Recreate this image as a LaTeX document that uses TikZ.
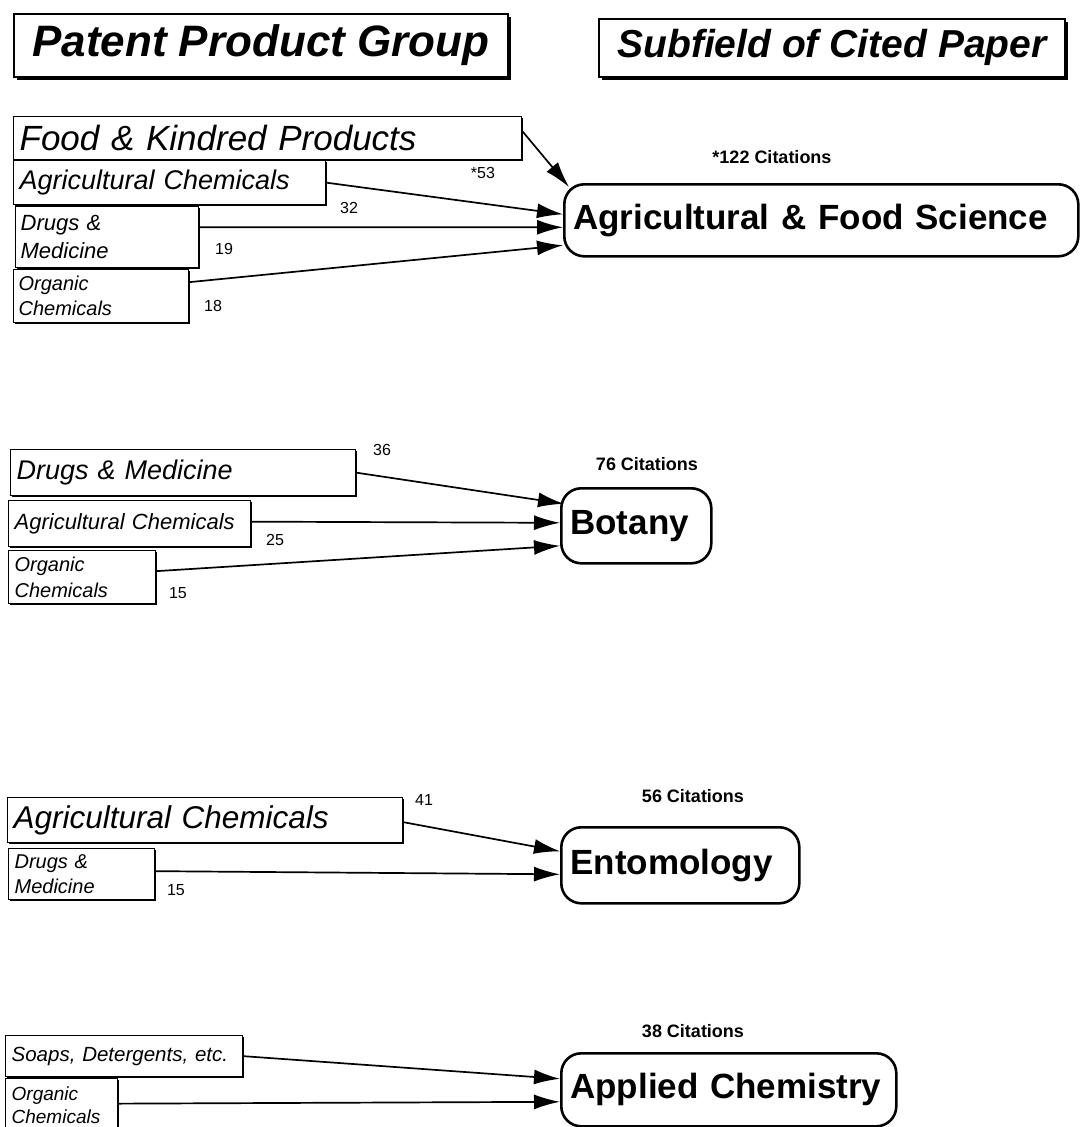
\documentclass[tikz,border=0pt]{standalone}
\usepackage{fontspec}
\setmainfont{Liberation Sans}
\usetikzlibrary{arrows.meta,shadows}
\begin{document}
\begin{tikzpicture}[x=1pt,y=-1pt]
\tikzstyle{heading} = [draw, line width=1.8, fill=white, anchor=north west, drop shadow={shadow xshift=3.5pt, shadow yshift=-3.5pt, fill=black, opacity=1}];
\tikzstyle{group} = [draw, line width=1.3, fill=white, anchor=north west, inner xsep=6, align=left, drop shadow={shadow xshift=1.2pt, shadow yshift=-1.2pt, fill=black, opacity=1}];
\tikzstyle{field} = [draw, line width=2.6, rounded corners=20, fill=white, anchor=north west, inner xsep=9, align=left, font=\bfseries\fontsize{35}{40}\selectfont];
\tikzstyle{cites} = [font=\bfseries\fontsize{18}{20}\selectfont];
\tikzstyle{count} = [font=\fontsize{16}{18}\selectfont];
\tikzstyle{link} = [line width=1.7, -{Latex[length=26,width=15]}];
\useasboundingbox (0,0) rectangle (1079,1127);
% headings
\node[heading, minimum width=494, minimum height=63, font=\bfseries\itshape\fontsize{44}{50}\selectfont] (ppg) at (13,13) {Patent Product Group};
\node[heading, minimum width=466, minimum height=58, font=\bfseries\itshape\fontsize{39}{44}\selectfont] (sub) at (598,18) {Subfield of Cited Paper};
% agricultural & food science
\node[group, text width=496, minimum height=43, font=\itshape\fontsize{35}{40}\selectfont] (food) at (13,116) {Food \& Kindred Products};
\node[group, text width=300, minimum height=44, font=\itshape\fontsize{27}{32}\selectfont] (agc1) at (13,160) {Agricultural Chemicals};
\node[group, inner xsep=5, text width=173, minimum height=61, font=\itshape\fontsize{22}{28}\selectfont] (drg1) at (15,206) {Drugs \&\\Medicine};
\node[group, inner xsep=5, text width=165, minimum height=53, font=\itshape\fontsize{20}{25}\selectfont] (org1) at (13,269) {Organic\\Chemicals};
\node[field, text width=496, minimum height=72] (agfood) at (563,183) {Agricultural \& Food Science};
\node[cites] (c1) at (772,157) {*122 Citations};
\node[count] (n53) at (483,173) {*53};
\node[count] (n32) at (349,208) {32};
\node[count] (n19) at (224,249) {19};
\node[count] (n18) at (213,306) {18};
\draw[link] ([shift={(0,-7)}]food.east) -- ([shift={(6,4)}]agfood.north west);
\draw[link] (agc1.east) -- ([shift={(0,-6)}]agfood.west);
\draw[link] ([shift={(0,-10)}]drg1.east) -- ([shift={(0,7)}]agfood.west);
\draw[link] ([shift={(0,-14)}]org1.east) -- ([shift={(0,25)}]agfood.west);
% botany
\node[group, text width=333, minimum height=46, font=\itshape\fontsize{27}{32}\selectfont] (drg2) at (10,449) {Drugs \& Medicine};
\node[group, text width=230, minimum height=46, font=\itshape\fontsize{22}{26}\selectfont] (agc2) at (8,500) {Agricultural Chemicals};
\node[group, text width=135, minimum height=53, font=\itshape\fontsize{20}{26}\selectfont] (org2) at (8,550) {Organic\\Chemicals};
\node[field, text width=132, minimum height=75] (bot) at (560,487) {Botany};
\node[cites] (c2) at (647,464) {76 Citations};
\node[count] (n36) at (382,450) {36};
\node[count] (n25) at (275,540) {25};
\node[count] (n15a) at (178,593) {15};
\draw[link] (drg2.east) -- ([shift={(4,-22)}]bot.west);
\draw[link] ([shift={(0,-2)}]agc2.east) -- ([shift={(0,-3)}]bot.west);
\draw[link] ([shift={(0,-6)}]org2.east) -- ([shift={(0,20)}]bot.west);
% entomology
\node[group, text width=383, minimum height=45, font=\itshape\fontsize{31.5}{36}\selectfont] (agc3) at (7,797) {Agricultural Chemicals};
\node[group, text width=134, minimum height=51, font=\itshape\fontsize{20}{25}\selectfont] (drg3) at (8,848) {Drugs \&\\Medicine};
\node[field, text width=220, minimum height=76] (ento) at (560,826) {Entomology};
\node[cites] (c3) at (693,796) {56 Citations};
\node[count] (n41) at (424,800) {41};
\node[count] (n15b) at (176,890) {15};
\draw[link] ([shift={(0,2)}]agc3.east) -- ([shift={(0,-14)}]ento.west);
\draw[link] ([shift={(0,-3)}]drg3.east) -- ([shift={(0,9)}]ento.west);
% applied chemistry
\node[group, text width=225, minimum height=41, font=\itshape\fontsize{20.5}{24}\selectfont] (soap) at (5,1035) {Soaps, Detergents, etc.};
\node[group, text width=100, minimum height=54, font=\itshape\fontsize{19}{23}\selectfont] (org4) at (5,1078) {Organic\\Chemicals};
\node[field, text width=317, minimum height=73] (appl) at (560,1052) {Applied Chemistry};
\node[cites] (c4) at (693,1031) {38 Citations};
\draw[link] (soap.east) -- ([shift={(0,-11)}]appl.west);
\draw[link] ([shift={(0,-2)}]org4.east) -- ([shift={(0,12)}]appl.west);
\end{tikzpicture}
\end{document}
